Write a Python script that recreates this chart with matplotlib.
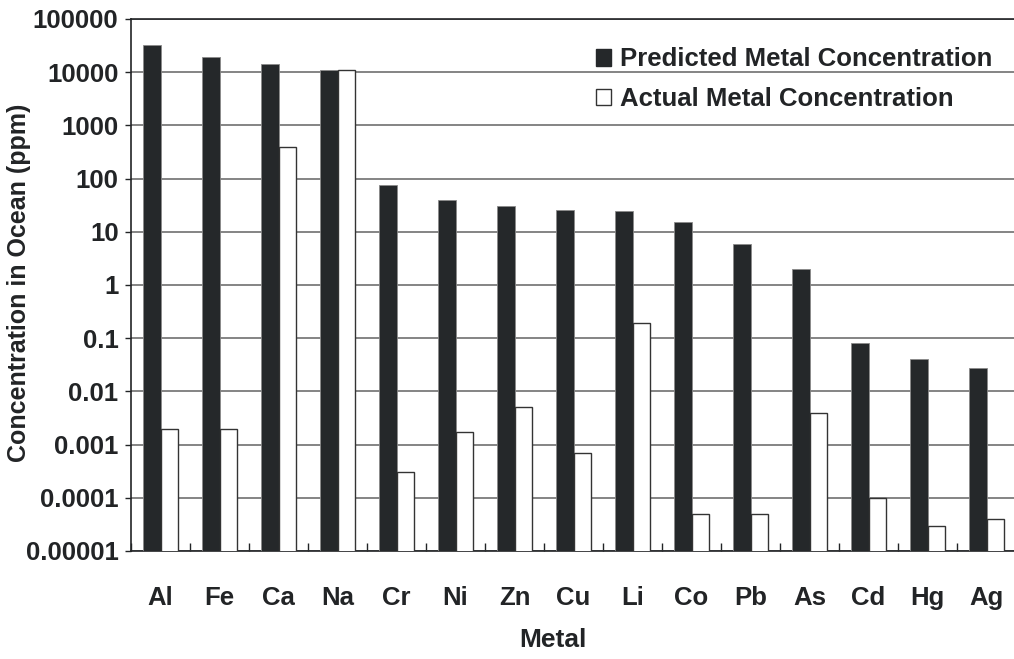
import matplotlib
matplotlib.use("Agg")
import matplotlib.pyplot as plt
import numpy as np
from matplotlib.patches import Patch
from matplotlib.ticker import FixedLocator, NullLocator

metals = ["Al", "Fe", "Ca", "Na", "Cr", "Ni", "Zn", "Cu", "Li",
          "Co", "Pb", "As", "Cd", "Hg", "Ag"]
predicted = [32000, 19000, 14000, 11000, 75, 40, 30, 26, 25,
             15, 6, 2, 0.08, 0.04, 0.028]
actual = [0.002, 0.002, 400, 10800, 0.0003, 0.0017, 0.005, 0.0007, 0.19,
          0.00005, 0.00005, 0.004, 0.0001, 0.00003, 0.00004]
ytick_vals = [1e-5, 1e-4, 1e-3, 1e-2, 1e-1, 1, 10, 100, 1000, 10000, 100000]
ytick_text = ["0.00001", "0.0001", "0.001", "0.01", "0.1", "1",
              "10", "100", "1000", "10000", "100000"]

plt.rcParams["font.family"] = ["Liberation Sans", "DejaVu Sans"]
plt.rcParams["font.weight"] = "bold"
ink = "#222426"

fig = plt.figure(figsize=(10.14, 6.59), dpi=100)
ax = fig.add_axes([131 / 1014, 108 / 659, 885 / 1014, 532 / 659])
ax.set_yscale("log")

x = np.arange(len(metals))
w = 0.29
ax.bar(x - w, predicted, width=w, align="edge",
       color="#25282a", edgecolor="#8a8a8a", linewidth=0.6, zorder=3)
ax.bar(x, actual, width=w, align="edge",
       color="white", edgecolor="#333333", linewidth=1.0, zorder=3)

ax.set_ylim(1e-5, 1e5)
ax.set_xlim(-0.5, len(metals) - 0.5)
ax.yaxis.set_major_locator(FixedLocator(ytick_vals))
ax.set_yticklabels(ytick_text)
ax.yaxis.set_minor_locator(NullLocator())
ax.grid(axis="y", color="#707070", linewidth=1.2, zorder=0)

# category labels without marks, boundary ticks pointing in
ax.set_xticks(x)
ax.set_xticklabels(metals)
ax.set_xticks(np.arange(len(metals) + 1) - 0.5, minor=True)
ax.tick_params(axis="x", which="major", length=0, pad=25, labelsize=18.5, colors=ink)
ax.tick_params(axis="x", which="minor", direction="in", length=6, width=1, color=ink)
ax.tick_params(axis="y", which="major", direction="out", length=4, width=1,
               pad=5, labelsize=18.5, colors=ink)

for s in ["left", "bottom", "top"]:
    ax.spines[s].set_color(ink)
    ax.spines[s].set_linewidth(1.2)
ax.spines["right"].set_visible(False)

ax.set_xlabel("Metal", fontsize=19, fontweight="bold", color=ink)
ax.xaxis.set_label_coords(0.477, -0.144)
ax.set_ylabel("Concentration in Ocean (ppm)", fontsize=18, fontweight="bold", color=ink)
ax.yaxis.set_label_coords(-0.113, 0.505)

handles = [Patch(facecolor="#25282a", edgecolor="#25282a", label="Predicted Metal Concentration"),
           Patch(facecolor="white", edgecolor="#333333", label="Actual Metal Concentration")]
ax.legend(handles=handles, loc="upper left", bbox_to_anchor=(0.499, 0.99),
          frameon=False, fontsize=18.5, handlelength=0.6, handleheight=0.6,
          handletextpad=0.35, labelspacing=0.6, labelcolor=ink)

fig.savefig("out.png", dpi=100)
